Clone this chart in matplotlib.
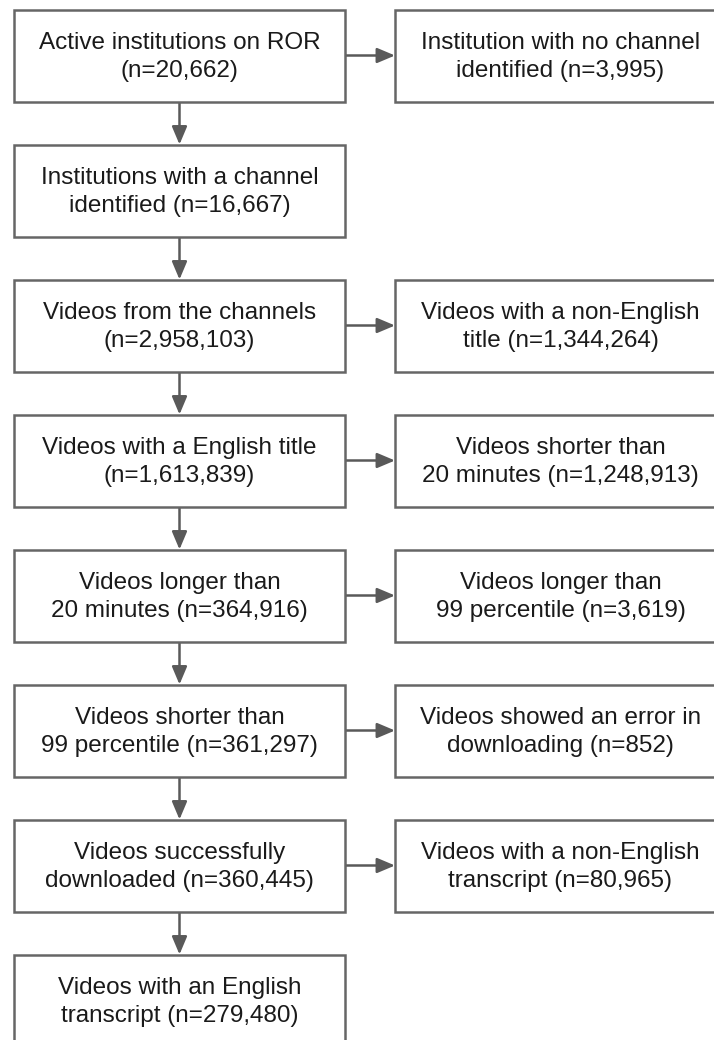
import matplotlib
matplotlib.use("Agg")
import matplotlib.pyplot as plt
from matplotlib.patches import Rectangle

plt.rcParams['font.family'] = ['Liberation Sans', 'DejaVu Sans']

# ---- data ----
left_text = [
    "Active institutions on ROR\n({n})",
    "Institutions with a channel\nidentified ({n})",
    "Videos from the channels\n({n})",
    "Videos with a English title\n({n})",
    "Videos longer than\n20 minutes ({n})",
    "Videos shorter than\n99 percentile ({n})",
    "Videos successfully\ndownloaded ({n})",
    "Videos with an English\ntranscript ({n})",
]
left_counts = [20662, 16667, 2958103, 1613839, 364916, 361297, 360445, 279480]

right_text = [
    "Institution with no channel\nidentified ({n})",
    None,
    "Videos with a non-English\ntitle ({n})",
    "Videos shorter than\n20 minutes ({n})",
    "Videos longer than\n99 percentile ({n})",
    "Videos showed an error in\ndownloading ({n})",
    "Videos with a non-English\ntranscript ({n})",
    None,
]
right_counts = [3995, None, 1344264, 1248913, 3619, 852, 80965, None]

# ---- layout ----
W, H = 714, 1040
fig = plt.figure(figsize=(W / 100, H / 100), dpi=100)
ax = fig.add_axes([0, 0, 1, 1])
ax.set_xlim(0, W)
ax.set_ylim(H, 0)
ax.axis('off')

edge = '#666666'
arrow_c = '#595959'
txt_c = '#1a1a1a'
fs = 17.5
lx0, lx1 = 14, 345
rx0, rx1 = 395, 726
top0, step, bh = 9.5, 135, 92


def fmt(t, n):
    return t.format(n="n={:,}".format(n))


def box(x0, x1, y0, text):
    ax.add_patch(Rectangle((x0, y0), x1 - x0, bh, facecolor='white',
                           edgecolor=edge, linewidth=1.8, zorder=2))
    ax.text((x0 + x1) / 2, y0 + bh / 2 + 1.5, text, ha='center', va='center',
            fontsize=fs, color=txt_c, linespacing=1.38, zorder=3)


def arrow(x0, y0, x1, y1):
    ax.annotate('', xy=(x1, y1), xytext=(x0, y0),
                arrowprops=dict(arrowstyle='-|>,head_length=0.9,head_width=0.38',
                                color=arrow_c, lw=1.8, shrinkA=0, shrinkB=0,
                                mutation_scale=12), zorder=1)


for i, (t, n) in enumerate(zip(left_text, left_counts)):
    y0 = top0 + i * step
    box(lx0, lx1, y0, fmt(t, n))
    if i < len(left_text) - 1:
        arrow((lx0 + lx1) / 2, y0 + bh, (lx0 + lx1) / 2, y0 + step)
    rt, rn = right_text[i], right_counts[i]
    if rt is not None:
        box(rx0, rx1, y0, fmt(rt, rn))
        arrow(lx1, y0 + bh / 2, rx0, y0 + bh / 2)

fig.savefig('out.png', dpi=100, facecolor='white')
